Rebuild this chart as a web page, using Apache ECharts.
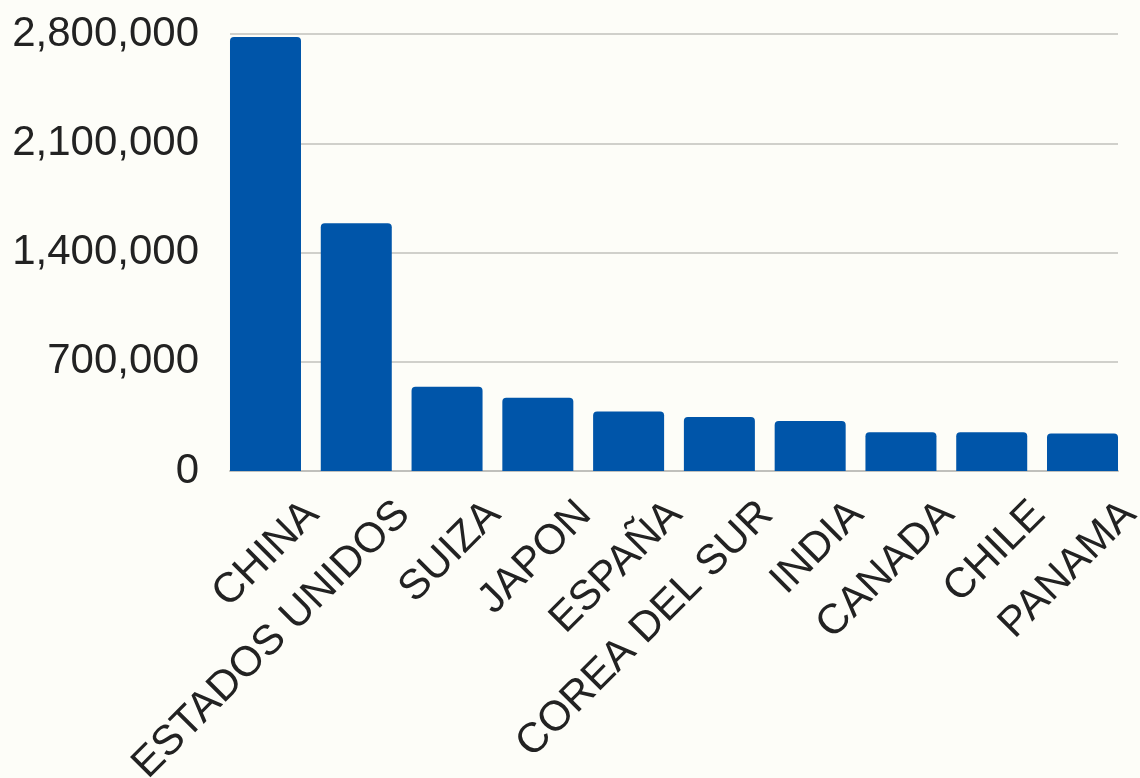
<!DOCTYPE html>
<html>
<head>
<meta charset="utf-8">
<script src="https://cdn.jsdelivr.net/npm/echarts@6/dist/echarts.min.js"></script>
<style>
html,body{margin:0;padding:0;background:#fdfdf8;}
#c{width:1140px;height:778px;}
</style>
</head>
<body>
<div id="c"></div>
<script>
const categories = ["CHINA","ESTADOS UNIDOS","SUIZA","JAPON","ESPAÑA","COREA DEL SUR","INDIA","CANADA","CHILE","PANAMA"];
const values = [2780000, 1587000, 540000, 469000, 382000, 346000, 320000, 248000, 248000, 241000];
const yTicks = [0, 700000, 1400000, 2100000, 2800000];

const chart = echarts.init(document.getElementById('c'), null, {renderer:'canvas'});
const xMin = -0.391, xMax = 9.391;
// label axis: same scale as bar axis, shifted right so label ends sit right of each bar
const pxPerUnit = 888 / (xMax - xMin);
const labelShiftPx = 47;
const labelGridLeft = 280;
const labelMin = -((230 + (0 - xMin) * pxPerUnit + labelShiftPx) - labelGridLeft) / pxPerUnit;
const labelMax = labelMin + (1140 - labelGridLeft) / pxPerUnit;
chart.setOption({
  backgroundColor: '#fdfdf8',
  animation: false,
  grid: [
    {left: 230, right: 22, top: 34, bottom: 307, containLabel: false, outerBoundsMode: 'none'},
    {left: labelGridLeft, right: 0, top: 34, bottom: 307, containLabel: false, outerBoundsMode: 'none'}
  ],
  xAxis: [{
    type: 'value', gridIndex: 0,
    min: xMin, max: xMax,
    splitLine: {show: false},
    axisTick: {show: false},
    axisLine: {show: true, lineStyle: {color: '#c0c0bc', width: 2}},
    axisLabel: {show: false}
  }, {
    type: 'value', gridIndex: 1,
    min: labelMin, max: labelMax,
    splitLine: {show: false},
    axisTick: {show: false},
    axisLine: {show: false},
    axisLabel: {
      customValues: categories.map((c, i) => i),
      formatter: v => categories[Math.round(v)] || '',
      rotate: 45,
      margin: 37,
      fontSize: 42,
      fontFamily: 'Liberation Sans, Arial, sans-serif',
      color: '#222222'
    }
  }],
  yAxis: [{
    type: 'value', gridIndex: 0,
    min: yTicks[0], max: yTicks[yTicks.length - 1], interval: 700000,
    axisLine: {show: false},
    axisTick: {show: false},
    splitLine: {lineStyle: {color: '#c0c0bc', width: 1.5}},
    axisLabel: {
      formatter: v => v.toLocaleString('en-US'),
      fontSize: 42,
      margin: 31,
      fontFamily: 'Liberation Sans, Arial, sans-serif',
      color: '#222222'
    }
  }, {
    type: 'value', gridIndex: 1, show: false, min: 0, max: 1
  }],
  series: [{
    type: 'bar',
    xAxisIndex: 0, yAxisIndex: 0,
    barWidth: 71,
    data: values.map((v, i) => [i, v]),
    itemStyle: {color: '#0055a9', borderRadius: [4, 4, 0, 0]}
  }]
});
</script>
</body>
</html>
